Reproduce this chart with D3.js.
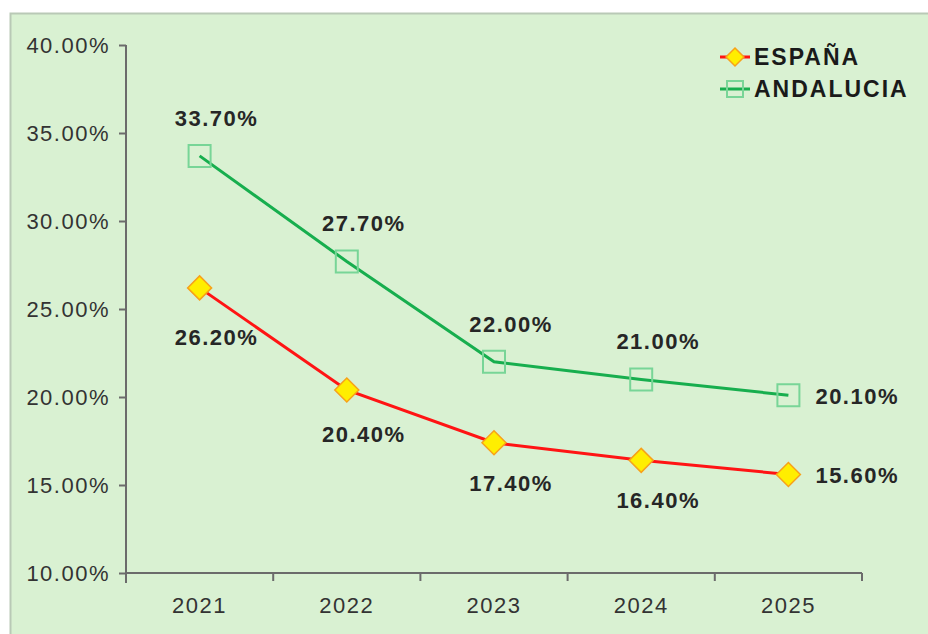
<!DOCTYPE html>
<html>
<head>
<meta charset="utf-8">
<script src="https://cdn.jsdelivr.net/npm/d3@7"></script>
<style>
  body { margin: 0; background: #fff; }
  svg { display: block; font-family: "Liberation Sans", Arial, sans-serif; }
</style>
</head>
<body>
<div class="chart"></div>
<script>
var years = ["2021", "2022", "2023", "2024", "2025"];
var espana = [26.2, 20.4, 17.4, 16.4, 15.6];
var andalucia = [33.7, 27.7, 22.0, 21.0, 20.1];
var yTicks = [10, 15, 20, 25, 30, 35, 40];
var seriesNames = ["ESPAÑA", "ANDALUCIA"];

var width = 928;
var height = 634;
var margin = {top: 45, right: 66, bottom: 61, left: 126};

var svg = d3.select(".chart")
  .append("svg")
  .attr("width", width)
  .attr("height", height);

// panel background
svg.append("rect")
  .attr("x", 10).attr("y", 13)
  .attr("width", width - 10).attr("height", height - 13)
  .attr("fill", "#d9f1d2");
svg.append("path")
  .attr("d", "M10.5," + height + "V13.5H" + width)
  .attr("fill", "none")
  .attr("stroke", "#b9c9b6")
  .attr("stroke-width", 2);

var x = d3.scaleBand()
  .domain(years)
  .range([margin.left, width - margin.right]);

var y = d3.scaleLinear()
  .domain([10, 40])
  .range([height - margin.bottom, margin.top]);

var cx = function(d) { return x(d) + x.bandwidth() / 2; };

// y axis
var yAxis = svg.append("g")
  .attr("transform", "translate(" + margin.left + ",0)")
  .call(d3.axisLeft(y).tickValues(yTicks).tickSize(7).tickPadding(9)
    .tickFormat(function(d) { return d.toFixed(2) + "%"; }));
yAxis.select(".domain").attr("d", "M0," + margin.top + "V" + (y(10) + 10));
yAxis.selectAll("line, path").attr("stroke", "#6b6b6b").attr("stroke-width", 2);
yAxis.selectAll("text")
  .attr("fill", "#333")
  .style("font-size", "22px")
  .style("letter-spacing", "1.5px")
  .attr("dy", "0.36em");

// x axis (ticks on band edges)
var edges = years.map(function(d) { return x(d); }).concat([x.range()[1]]);
var xAxis = svg.append("g").attr("transform", "translate(0," + y(10) + ")");
xAxis.append("path")
  .attr("d", "M" + margin.left + ",0H" + x.range()[1])
  .attr("stroke", "#6b6b6b").attr("stroke-width", 2).attr("fill", "none");
xAxis.selectAll("line.tick")
  .data(edges.slice(1))
  .enter().append("line")
  .attr("class", "tick")
  .attr("x1", function(d) { return d; }).attr("x2", function(d) { return d; })
  .attr("y1", 0).attr("y2", 8)
  .attr("stroke", "#6b6b6b").attr("stroke-width", 2);
xAxis.selectAll("text")
  .data(years)
  .enter().append("text")
  .attr("x", cx)
  .attr("y", 40)
  .attr("text-anchor", "middle")
  .attr("fill", "#333")
  .style("font-size", "22px")
  .style("letter-spacing", "1.5px")
  .text(function(d) { return d; });

var line = d3.line()
  .x(function(d, i) { return cx(years[i]); })
  .y(function(d) { return y(d); });

var green = "#17ae4e";
var red = "#ff1414";

function diamond(sel, s) {
  sel.attr("d", "M0," + (-s) + "L" + s + ",0L0," + s + "L" + (-s) + ",0Z")
    .attr("fill", "#ffee00")
    .attr("stroke", "#f7a11a")
    .attr("stroke-width", 1.5);
}
function square(sel, s) {
  sel.attr("d", "M" + (-s) + "," + (-s) + "h" + (2 * s) + "v" + (2 * s) + "h" + (-2 * s) + "Z")
    .attr("fill", "none")
    .attr("stroke", "#78d597")
    .attr("stroke-width", 2);
}

// andalucia
svg.append("path")
  .datum(andalucia)
  .attr("d", line)
  .attr("fill", "none")
  .attr("stroke", green)
  .attr("stroke-width", 3);
svg.selectAll(".sq")
  .data(andalucia)
  .enter().append("path")
  .attr("class", "sq")
  .attr("transform", function(d, i) { return "translate(" + cx(years[i]) + "," + y(d) + ")"; })
  .call(square, 11);

// espana
svg.append("path")
  .datum(espana)
  .attr("d", line)
  .attr("fill", "none")
  .attr("stroke", red)
  .attr("stroke-width", 3);
svg.selectAll(".dm")
  .data(espana)
  .enter().append("path")
  .attr("class", "dm")
  .attr("transform", function(d, i) { return "translate(" + cx(years[i]) + "," + y(d) + ")"; })
  .call(diamond, 12);

// value labels: above for andalucia, below for espana (pushed further on steep drops)
function labels(data, above) {
  var last = data.length - 1;
  svg.selectAll(null)
    .data(data)
    .enter().append("text")
    .attr("x", function(d, i) { return i === last ? cx(years[i]) + 27 : cx(years[i]) + 17; })
    .attr("y", function(d, i) {
      if (i === last) return y(d) + 9;
      if (above) return y(d) - 30;
      var drop = d - data[i + 1];
      return y(d) + 46 + 2 * drop;
    })
    .attr("text-anchor", function(d, i) { return i === last ? "start" : "middle"; })
    .attr("fill", "#262626")
    .style("font-size", "22px")
    .style("font-weight", "bold")
    .style("letter-spacing", "1.5px")
    .text(function(d) { return d.toFixed(2) + "%"; });
}
labels(andalucia, true);
labels(espana, false);

// legend
var legend = svg.append("g").attr("transform", "translate(720,57)");
var items = legend.selectAll("g")
  .data(seriesNames)
  .enter().append("g")
  .attr("transform", function(d, i) { return "translate(0," + (i * 32) + ")"; });
items.append("line")
  .attr("x1", 0).attr("x2", 30)
  .attr("stroke", function(d, i) { return i === 0 ? red : green; })
  .attr("stroke-width", 3);
items.append("path")
  .attr("transform", "translate(15,0)")
  .each(function(d, i) {
    if (i === 0) d3.select(this).call(diamond, 9);
    else d3.select(this).call(square, 8);
  });
items.append("text")
  .attr("x", 34)
  .attr("dy", "0.36em")
  .attr("fill", "#1a1a1a")
  .style("font-size", "23px")
  .style("font-weight", "bold")
  .style("letter-spacing", "2px")
  .text(function(d) { return d; });
</script>
</body>
</html>
